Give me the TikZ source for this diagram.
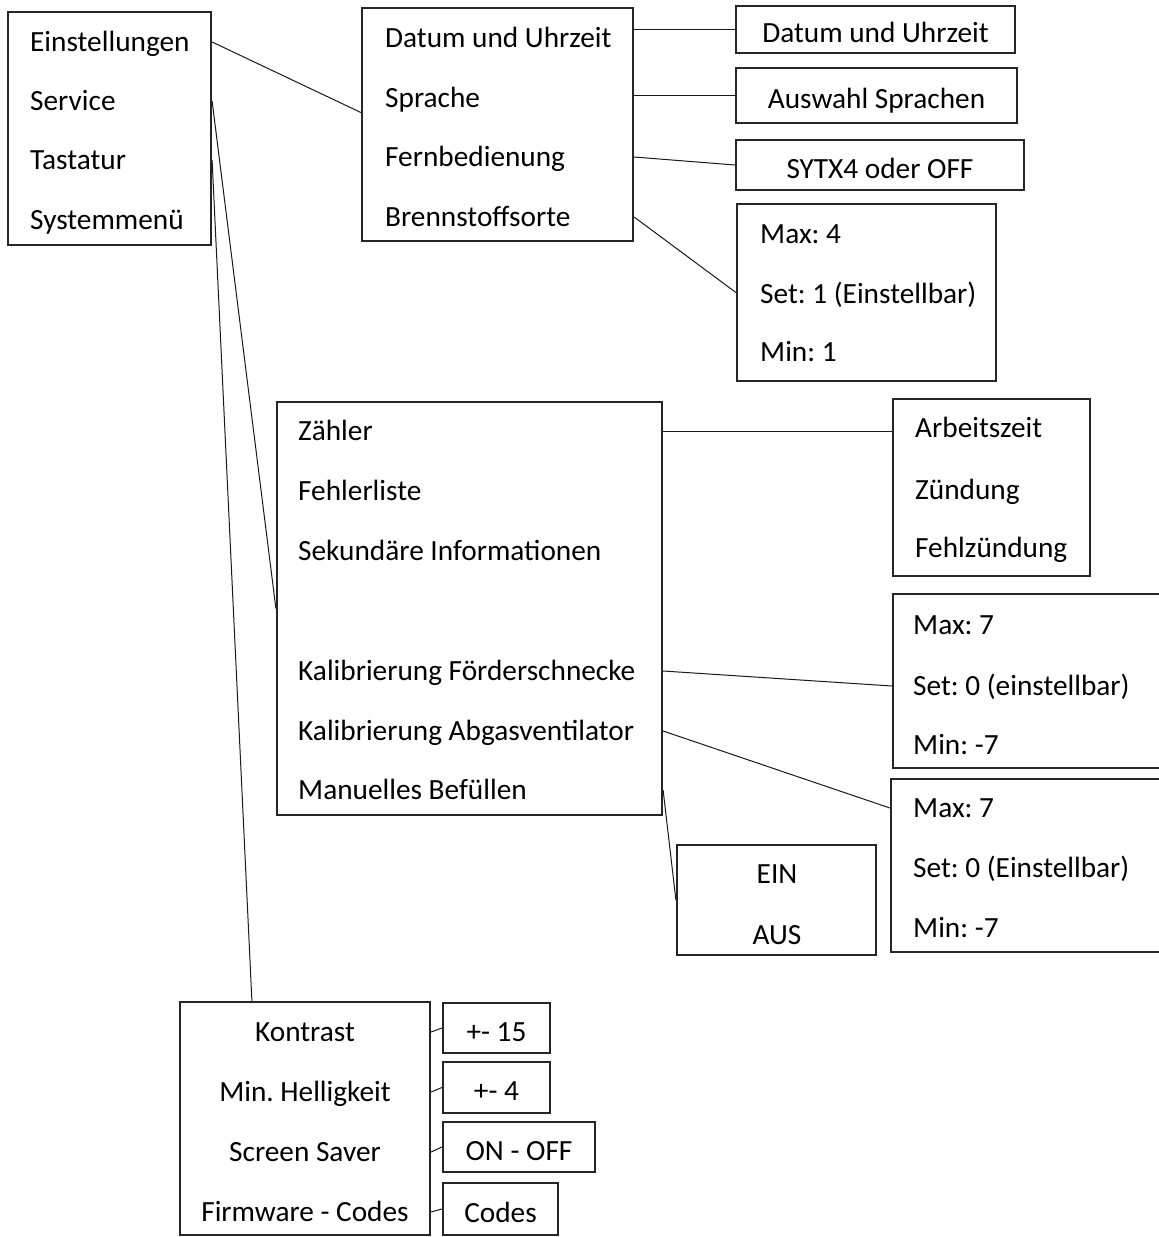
\documentclass[tikz,border=0pt]{standalone}
\usepackage{fontspec}
\setmainfont{Carlito}
\frenchspacing
\begin{document}
\begin{tikzpicture}[
    x=1pt, y=-1pt,
    font=\fontsize{29.3}{35}\selectfont,
    box/.style={
        draw=black!85,
        line width=2.2pt,
        inner sep=0pt,
        text height=33pt,
        text depth=7pt
    },
    item/.style={anchor=west, inner sep=0pt, text height=26pt, text depth=7pt},
    citem/.style={item, anchor=center},
    conn/.style={draw=black!90, line width=1pt}
]
    \useasboundingbox (0,0) rectangle (1159,1237);

    % main menu
    \node[box, minimum width=203pt, minimum height=233pt] (menu) at (109.5,128.5) {};
    \node[item] (einst) at (30,42) {Einstellungen};
    \node[item] (service) at (30,101) {Service};
    \node[item] (tastatur) at (30,160) {Tastatur};
    \node[item] (sysmenu) at (30,220) {Systemmenü};

    % Einstellungen
    \node[box, minimum width=271pt, minimum height=233pt] (settings) at (497.5,124.5) {};
    \node[item] (datum) at (385,38) {Datum und Uhrzeit};
    \node[item] (sprache) at (385,98) {Sprache};
    \node[item] (fern) at (385,157) {Fernbedienung};
    \node[item] (brenn) at (385,217) {Brennstoffsorte};

    \node[box, minimum width=279pt, minimum height=47pt] (datumR) at (875.5,29.5) {Datum und Uhrzeit};
    \node[box, minimum width=281pt, minimum height=55pt] (auswahl) at (876.5,95.5) {Auswahl Sprachen};
    \node[box, minimum width=288pt, minimum height=50pt] (sytx) at (880,165) {SYTX4 oder OFF};

    \node[box, minimum width=259pt, minimum height=177pt] (max4) at (866.5,292.5) {};
    \node[item] (max4a) at (760,234) {Max: 4};
    \node[item] (max4b) at (760,294) {Set: 1 (Einstellbar)};
    \node[item] (max4c) at (760,352) {Min: 1};

    % Service
    \node[box, minimum width=385pt, minimum height=413pt] (svc) at (469.5,608.5) {};
    \node[item] (zaehler) at (298,431) {Zähler};
    \node[item] (fehler) at (298,491) {Fehlerliste};
    \node[item] (sekund) at (298,551) {Sekundäre Informationen};
    \node[item] (kalF) at (298,671) {Kalibrierung Förderschnecke};
    \node[item] (kalA) at (298,731) {Kalibrierung Abgasventilator};
    \node[item] (manuell) at (298,790) {Manuelles Befüllen};

    \node[box, minimum width=197pt, minimum height=177pt] (zR) at (991.5,487.5) {};
    \node[item] (arbeit) at (915,428) {Arbeitszeit};
    \node[item] (zuend) at (915,490) {Zündung};
    \node[item] (fehlz) at (915,548) {Fehlzündung};

    \node[box, minimum width=307pt, minimum height=174pt] (m7a) at (1046.5,681) {};
    \node[item] (maxA) at (913,625) {Max: 7};
    \node[item] (setA) at (913,686) {Set: 0 (einstellbar)};
    \node[item] (minA) at (913,745) {Min: -7};

    \node[box, minimum width=309pt, minimum height=173pt] (m7b) at (1045.5,865.5) {};
    \node[item] (maxB) at (913,808) {Max: 7};
    \node[item] (setB) at (913,868) {Set: 0 (Einstellbar)};
    \node[item] (minB) at (913,928) {Min: -7};

    \node[box, minimum width=199pt, minimum height=110pt] (einaus) at (776.5,900) {};
    \node[citem] (ein) at (777,874) {EIN};
    \node[citem] (aus) at (777,935) {AUS};

    % Systemmenue
    \node[box, minimum width=250pt, minimum height=233pt] (kbox) at (305,1118.5) {};
    \node[citem] (kontrast) at (305,1032) {Kontrast};
    \node[citem] (hell) at (305,1092) {Min. Helligkeit};
    \node[citem] (screen) at (305,1152) {Screen Saver};
    \node[citem] (firm) at (305,1212) {Firmware - Codes};

    \node[box, minimum width=107pt, minimum height=50pt] (p15) at (496.5,1028) {+- 15};
    \node[box, minimum width=107pt, minimum height=51pt] (p4) at (496.5,1087.5) {+- 4};
    \node[box, minimum width=152pt, minimum height=50pt] (onoff) at (519,1147) {ON - OFF};
    \node[box, minimum width=115pt, minimum height=52pt] (codes) at (500.5,1209) {Codes};

    \draw[conn] (menu.east |- einst) -- ([yshift=12pt]settings.west);
    \draw[conn] (menu.east |- service) -- (svc.west);
    \draw[conn] (menu.east |- tastatur) -- ([xshift=73pt]kbox.north west);

    \draw[conn] (settings.east |- datumR.west) -- (datumR.west);
    \draw[conn] (settings.east |- auswahl.west) -- (auswahl.west);
    \draw[conn] (settings.east |- fern) -- (sytx.west);
    \draw[conn] (settings.east |- brenn) -- (max4.west);

    \draw[conn] (svc.east |- zaehler) -- (zR.west |- zaehler);
    \draw[conn] (svc.east |- kalF) -- (m7a.west |- setA);
    \draw[conn] (svc.east |- kalA) -- (m7b.west |- maxB);
    \draw[conn] (svc.east |- manuell) -- (einaus.west);

    \draw[conn] (kbox.east |- kontrast) -- (p15.west);
    \draw[conn] (kbox.east |- hell) -- (p4.west);
    \draw[conn] (kbox.east |- screen) -- (onoff.west);
    \draw[conn] (kbox.east |- firm) -- (codes.west);
\end{tikzpicture}
\end{document}
